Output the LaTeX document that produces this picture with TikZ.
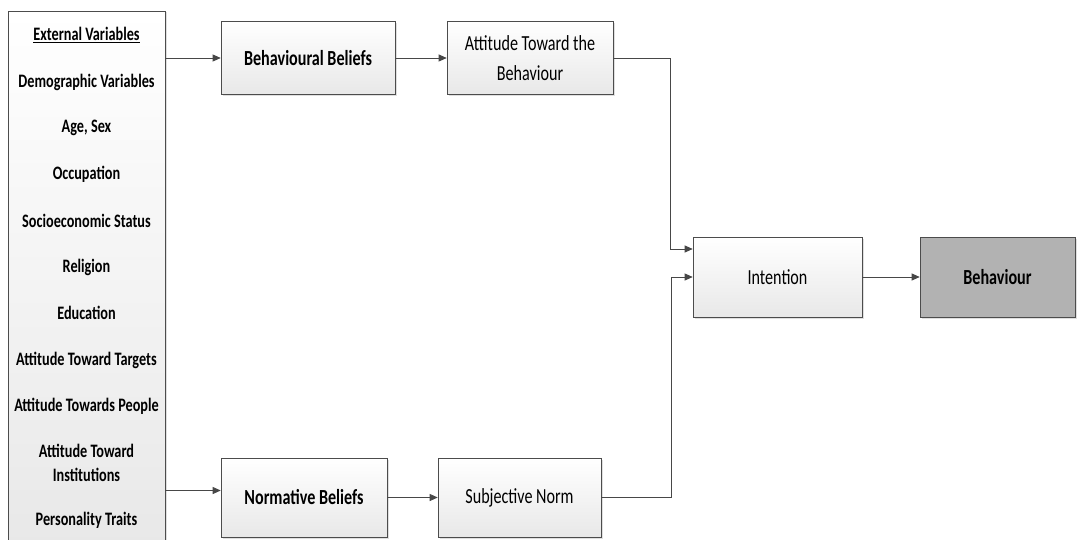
\documentclass[tikz,border=0pt]{standalone}
\usepackage{fontspec}
\setmainfont{Carlito}[FakeStretch=0.75]
\usetikzlibrary{arrows.meta,shadows,positioning}

\begin{document}
\begin{tikzpicture}[x=1pt,y=-1pt,
    box/.style={draw=black!70, line width=0.6pt, top color=white, bottom color=black!9,
        drop shadow={shadow xshift=1.5pt, shadow yshift=-1.5pt, opacity=0.25},
        align=center, inner sep=0pt, font=\fontsize{21.5}{30}\selectfont},
    darkbox/.style={box, top color=black!30, bottom color=black!30},
    arr/.style={draw=black!72, line width=0.8pt, -{Triangle[length=8pt,width=7pt]}},
    extlabel/.style={align=center, font=\fontsize{19}{24}\selectfont\bfseries}]
    \useasboundingbox (0,0) rectangle (1081,540);
    % the column of external variables
    \node[box, minimum width=157, minimum height=536] (ext) at (86.5,279) {};
    \foreach \ypos/\txt [count=\i] in {35/\underline{External Variables},
        82/Demographic Variables, 128/{Age, Sex}, 174/Occupation,
        221/Socioeconomic Status, 267/Religion, 313/Education,
        360/Attitude Toward Targets, 406/Attitude Towards People,
        463/{Attitude Toward\\Institutions}, 520/Personality Traits}
        \node[extlabel] (ev\i) at (86.5,\ypos) {\txt};
    % beliefs and attitudes
    \node[box, minimum width=174, minimum height=73] (bb) at (308,58) {\textbf{Behavioural Beliefs}};
    \node[box, minimum width=166, minimum height=73] (att) at (530,58) {Attitude Toward the\\Behaviour};
    \node[box, minimum width=166, minimum height=79] (nb) at (304,497.5) {\textbf{Normative Beliefs}};
    \node[box, minimum width=163, minimum height=79] (sn) at (519.5,497.5) {Subjective Norm};
    % intention and behaviour
    \node[box, minimum width=169, minimum height=80] (int) at (777.5,277) {Intention};
    \node[darkbox, minimum width=155, minimum height=80] (beh) at (997.5,277) {\textbf{Behaviour}};
    \coordinate (nbin) at ([yshift=7pt]nb.west);
    \coordinate (intin) at ([yshift=28pt]int.west);
    % connectors
    \draw[arr] (ext.east |- bb.west) -- (bb.west);
    \draw[arr] (ext.east |- nbin) -- (nbin);
    \draw[arr] (bb) -- (att);
    \draw[arr] (nb) -- (sn);
    \draw[arr] (att.east) -- ++(57,0) |- (intin);
    \draw[arr] (sn.east) -- ++(70,0) |- (int.west);
    \draw[arr] (int) -- (beh);
\end{tikzpicture}
\end{document}
